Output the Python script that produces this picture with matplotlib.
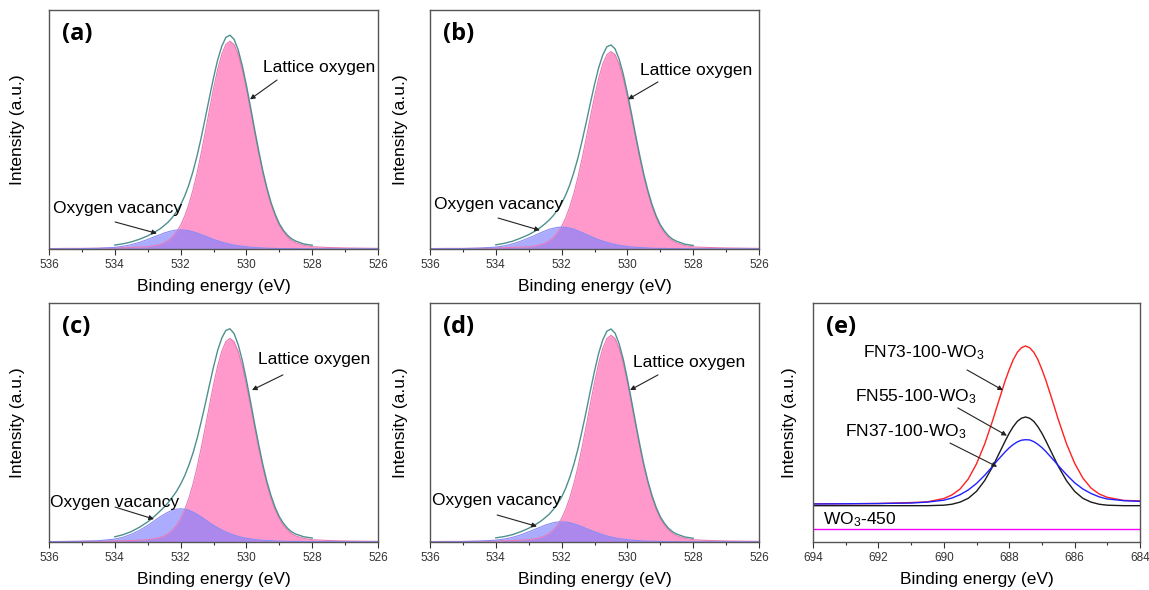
import matplotlib
matplotlib.use('Agg')
import matplotlib.pyplot as plt
import numpy as np
from matplotlib.ticker import MultipleLocator

plt.rcParams['font.family'] = ['Liberation Sans', 'DejaVu Sans']
plt.rcParams['mathtext.fontset'] = 'custom'
plt.rcParams['mathtext.rm'] = 'Liberation Sans'
plt.rcParams['mathtext.it'] = 'Liberation Sans:italic'

# O 1s binding energy grid (eV), panels a-d
be_o1s = [536.0, 535.5, 535.0, 534.5, 534.0, 533.75, 533.5, 533.25, 533.0,
          532.875, 532.75, 532.625, 532.5, 532.375, 532.25, 532.125, 532.0,
          531.875, 531.75, 531.625, 531.5, 531.375, 531.25, 531.125, 531.0,
          530.875, 530.75, 530.625, 530.5, 530.375, 530.25, 530.125, 530.0,
          529.875, 529.75, 529.625, 529.5, 529.375, 529.25, 529.125, 529.0,
          528.875, 528.75, 528.625, 528.5, 528.25, 528.0, 527.5, 527.0, 526.5, 526.0]

# lattice oxygen component (peak ~530.5 eV)
lattice_a = [0.002, 0.003, 0.003, 0.004, 0.005, 0.006, 0.007, 0.009, 0.011,
             0.014, 0.017, 0.022, 0.030, 0.041, 0.058, 0.082, 0.114,
             0.158, 0.214, 0.283, 0.365, 0.460, 0.562, 0.668, 0.771,
             0.863, 0.936, 0.984, 1.000, 0.984, 0.936, 0.863, 0.771,
             0.668, 0.562, 0.460, 0.365, 0.283, 0.214, 0.158, 0.114,
             0.082, 0.058, 0.041, 0.030, 0.017, 0.011, 0.007, 0.005, 0.004, 0.003]
lattice_b = [0.002, 0.003, 0.003, 0.004, 0.005, 0.006, 0.007, 0.009, 0.010,
             0.013, 0.016, 0.021, 0.029, 0.039, 0.055, 0.078, 0.108,
             0.150, 0.203, 0.269, 0.347, 0.437, 0.534, 0.635, 0.732,
             0.820, 0.889, 0.935, 0.950, 0.935, 0.889, 0.820, 0.732,
             0.635, 0.534, 0.437, 0.347, 0.269, 0.203, 0.150, 0.108,
             0.078, 0.055, 0.039, 0.029, 0.016, 0.010, 0.007, 0.005, 0.004, 0.003]
lattice_c = [0.002, 0.003, 0.003, 0.004, 0.005, 0.006, 0.007, 0.009, 0.011,
             0.014, 0.017, 0.022, 0.029, 0.040, 0.057, 0.080, 0.112,
             0.155, 0.210, 0.277, 0.358, 0.451, 0.551, 0.655, 0.756,
             0.846, 0.917, 0.964, 0.980, 0.964, 0.917, 0.846, 0.756,
             0.655, 0.551, 0.451, 0.358, 0.277, 0.210, 0.155, 0.112,
             0.080, 0.057, 0.040, 0.029, 0.017, 0.011, 0.007, 0.005, 0.004, 0.003]
lattice_d = [0.002, 0.003, 0.003, 0.004, 0.005, 0.006, 0.007, 0.009, 0.011,
             0.014, 0.017, 0.022, 0.030, 0.041, 0.058, 0.082, 0.113,
             0.157, 0.213, 0.282, 0.363, 0.458, 0.559, 0.665, 0.767,
             0.859, 0.931, 0.979, 0.995, 0.979, 0.931, 0.859, 0.767,
             0.665, 0.559, 0.458, 0.363, 0.282, 0.213, 0.157, 0.113,
             0.082, 0.058, 0.041, 0.030, 0.017, 0.011, 0.007, 0.005, 0.004, 0.003]

# oxygen vacancy component (peak ~532 eV)
vacancy_a = [0.001, 0.001, 0.002, 0.003, 0.008, 0.013, 0.021, 0.032, 0.046,
             0.054, 0.062, 0.069, 0.077, 0.083, 0.088, 0.091, 0.092,
             0.091, 0.088, 0.083, 0.077, 0.069, 0.062, 0.054, 0.046,
             0.040, 0.033, 0.028, 0.023, 0.019, 0.016, 0.013, 0.011,
             0.009, 0.007, 0.006, 0.005, 0.004, 0.003, 0.003, 0.002,
             0.002, 0.002, 0.002, 0.002, 0.001, 0.001, 0.001, 0.001, 0.001, 0.001]
vacancy_b = [0.001, 0.002, 0.002, 0.004, 0.009, 0.015, 0.024, 0.037, 0.053,
             0.061, 0.070, 0.079, 0.087, 0.095, 0.100, 0.104, 0.105,
             0.104, 0.100, 0.095, 0.087, 0.079, 0.070, 0.061, 0.053,
             0.045, 0.038, 0.032, 0.026, 0.022, 0.018, 0.015, 0.012,
             0.010, 0.008, 0.007, 0.006, 0.005, 0.004, 0.003, 0.003,
             0.003, 0.002, 0.002, 0.002, 0.001, 0.001, 0.001, 0.001, 0.001, 0.001]
vacancy_c = [0.002, 0.002, 0.004, 0.006, 0.014, 0.023, 0.037, 0.056, 0.080,
             0.093, 0.107, 0.121, 0.133, 0.144, 0.153, 0.158, 0.160,
             0.158, 0.153, 0.144, 0.133, 0.121, 0.107, 0.093, 0.080,
             0.069, 0.058, 0.048, 0.040, 0.033, 0.027, 0.022, 0.018,
             0.015, 0.012, 0.010, 0.008, 0.007, 0.006, 0.005, 0.004,
             0.004, 0.003, 0.003, 0.003, 0.002, 0.002, 0.002, 0.001, 0.001, 0.001]
vacancy_d = [0.001, 0.001, 0.002, 0.004, 0.009, 0.014, 0.022, 0.034, 0.049,
             0.057, 0.065, 0.073, 0.081, 0.087, 0.093, 0.096, 0.097,
             0.096, 0.093, 0.087, 0.081, 0.073, 0.065, 0.057, 0.049,
             0.042, 0.035, 0.029, 0.024, 0.020, 0.016, 0.014, 0.011,
             0.009, 0.008, 0.006, 0.005, 0.004, 0.004, 0.003, 0.003,
             0.002, 0.002, 0.002, 0.002, 0.001, 0.001, 0.001, 0.001, 0.001, 0.001]

# F 1s spectra, panel e
be_f1s = [694, 693, 692, 691, 690.5, 690, 689.75, 689.5, 689.25, 689, 688.75, 688.5,
          688.375, 688.25, 688.125, 688, 687.875, 687.75, 687.625, 687.5,
          687.375, 687.25, 687.125, 687, 686.875, 686.75, 686.625, 686.5,
          686.25, 686, 685.75, 685.5, 685.25, 685, 684.5, 684]
fn73 = [16.0, 16.0, 16.1, 16.5, 16.8, 18.2, 19.7, 22.2, 26.4, 32.7, 41.0, 51.1,
        56.6, 62.0, 67.4, 72.1, 76.3, 79.4, 81.3, 82.0,
        81.3, 79.4, 76.4, 72.2, 67.5, 62.2, 56.8, 51.3,
        41.2, 33.0, 26.8, 22.6, 20.1, 18.7, 17.4, 17.2]
fn55 = [15.2, 15.2, 15.2, 15.2, 15.2, 15.4, 15.8, 16.7, 18.3, 21.2, 25.7, 31.7,
        35.2, 38.7, 42.2, 45.5, 48.3, 50.5, 51.8, 52.3,
        51.8, 50.5, 48.3, 45.5, 42.2, 38.7, 35.2, 31.7,
        25.7, 21.2, 18.3, 16.7, 15.8, 15.4, 15.2, 15.2]
fn37 = [15.9, 16.0, 16.1, 16.3, 16.7, 17.5, 18.4, 19.8, 21.8, 24.5, 27.9, 31.8,
        33.9, 35.8, 37.7, 39.4, 40.8, 41.9, 42.6, 42.8,
        42.7, 42.0, 40.9, 39.5, 37.8, 35.9, 34.0, 32.0,
        28.2, 24.8, 22.2, 20.3, 18.9, 18.0, 17.3, 17.0]
wo3_be = [694, 684]
wo3_450 = [5.4, 5.4]

panel_labels = ['(a)', '(b)', '(c)', '(d)', '(e)']
f1s_names = ['FN73-100-WO$_3$', 'FN55-100-WO$_3$', 'FN37-100-WO$_3$']

W, H = 1149, 590
fig = plt.figure(figsize=(W / 100, H / 100), dpi=100)


def px_axes(left, top, right, bottom):
    return fig.add_axes([left / W, 1 - bottom / H, (right - left) / W, (bottom - top) / H])


def frame(ax, xmin, xmax, ylab_x):
    ax.set_xlim(xmin, xmax)
    ax.xaxis.set_major_locator(MultipleLocator(2))
    ax.xaxis.set_minor_locator(MultipleLocator(1))
    ax.set_yticks([])
    ax.tick_params(axis='x', which='major', length=4, width=0.8, labelsize=8.5,
                   colors='#333333', pad=3)
    ax.tick_params(axis='x', which='minor', length=2.5, width=0.8, colors='#333333')
    for s in ax.spines.values():
        s.set_color('#555555')
        s.set_linewidth(1.0)
    ax.set_xlabel('Binding energy (eV)', fontsize=12.5, labelpad=6)
    ax.set_ylabel('Intensity (a.u.)', fontsize=12.5)
    ax.yaxis.set_label_coords(ylab_x, 0.5)


def arrow(ax, tail, tip):
    ax.annotate('', xy=tip, xytext=tail,
                arrowprops=dict(arrowstyle='-|>', color='#222222', lw=0.8,
                                mutation_scale=7, shrinkA=0, shrinkB=0))


def o1s_panel(ax, lat, vac, label, lat_txt, lat_arrow, vac_txt, vac_arrow, ylab_x):
    x = np.array(be_o1s)
    lat = np.array(lat)
    vac = np.array(vac)
    env = lat + vac
    ax.fill_between(x, 0, lat, color='#FF99CC', lw=0)
    ax.plot(x, lat, color='#E87AB5', lw=0.8)
    ax.fill_between(x, 0, vac, color='#8080FF', alpha=0.65, lw=0)
    ax.plot(x, vac, color='#8A8AF5', lw=0.8)
    # fitted envelope, 534 -> 528 eV
    ax.plot(x[4:47], env[4:47] + 0.006, color='#4F8F8F', lw=1.0)
    ax.set_ylim(0, 1.15)
    frame(ax, 536, 526, ylab_x)
    ax.text(0.04, 0.9, label, transform=ax.transAxes, fontsize=17,
            fontweight='bold', family='Open Sans', va='center', ha='left')
    ax.text(lat_txt[0], lat_txt[1], 'Lattice oxygen', fontsize=12.5, va='center')
    arrow(ax, *lat_arrow)
    ax.text(vac_txt[0], vac_txt[1], 'Oxygen vacancy', fontsize=12.5, va='center')
    arrow(ax, *vac_arrow)


ax_a = px_axes(49, 10, 378, 249)
o1s_panel(ax_a, lattice_a, vacancy_a, panel_labels[0],
          (529.5, 0.871), ((529.07, 0.813), (529.89, 0.72)),
          (535.88, 0.197), ((533.99, 0.130), (532.72, 0.075)), -0.073)

ax_b = px_axes(430, 10, 759, 249)
o1s_panel(ax_b, lattice_b, vacancy_b, panel_labels[1],
          (529.62, 0.861), ((529.07, 0.804), (529.98, 0.72)),
          (535.88, 0.212), ((533.93, 0.149), (532.66, 0.09)), -0.067)

ax_c = px_axes(49, 303, 378, 542)
o1s_panel(ax_c, lattice_c, vacancy_c, panel_labels[2],
          (529.65, 0.876), ((528.89, 0.804), (529.83, 0.731)),
          (535.97, 0.192), ((533.99, 0.168), (532.81, 0.11)), -0.073)

ax_d = px_axes(430, 303, 759, 542)
o1s_panel(ax_d, lattice_d, vacancy_d, panel_labels[3],
          (529.83, 0.866), ((529.07, 0.804), (529.92, 0.731)),
          (535.94, 0.202), ((533.96, 0.130), (532.75, 0.075)), -0.067)

# panel e
ax_e = px_axes(813, 303, 1140, 542)
ax_e.plot(be_f1s, fn73, color='#FF2020', lw=1.0)
ax_e.plot(be_f1s, fn55, color='#1a1a1a', lw=1.0)
ax_e.plot(be_f1s, fn37, color='#2020FF', lw=1.0)
ax_e.plot(wo3_be, wo3_450, color='#FF00FF', lw=1.0)
ax_e.set_ylim(0, 100)
frame(ax_e, 694, 684, -0.05)
ax_e.text(0.04, 0.9, panel_labels[4], transform=ax_e.transAxes, fontsize=17,
          fontweight='bold', family='Open Sans', va='center', ha='left')
e_txt = [(692.47, 79.1), (692.72, 60.7), (693.02, 46.0)]
e_arr = [((689.29, 72.0), (688.19, 63.5)),
         ((689.57, 56.1), (688.07, 44.5)),
         ((689.81, 41.4), (688.37, 31.5))]
for name, (tx, ty), (a0, a1) in zip(f1s_names, e_txt, e_arr):
    ax_e.text(tx, ty, name, fontsize=12.5, va='center')
    arrow(ax_e, a0, a1)
ax_e.text(693.69, 9.2, 'WO$_3$-450', fontsize=12.5, va='center')

fig.savefig('out.png', dpi=100)
